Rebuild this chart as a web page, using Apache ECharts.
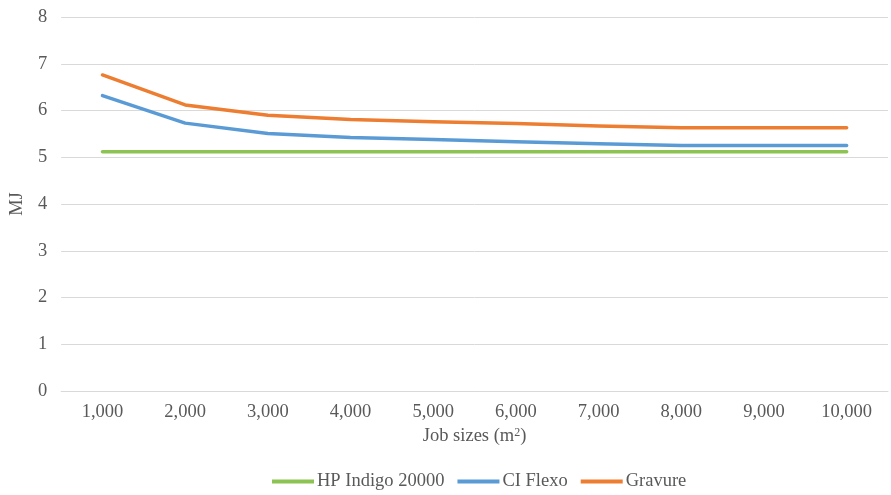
<!DOCTYPE html>
<html>
<head>
<meta charset="utf-8">
<script src="https://cdn.jsdelivr.net/npm/echarts@6/dist/echarts.min.js"></script>
<style>
  html, body { margin: 0; padding: 0; background: #fff; }
  #chart { width: 891px; height: 495px; }
</style>
</head>
<body>
<div id="chart"></div>
<script>
// Job sizes (m²)
const jobSizes = ['1,000', '2,000', '3,000', '4,000', '5,000', '6,000', '7,000', '8,000', '9,000', '10,000'];
// Energy per job (MJ)
const hpIndigo = [5.12, 5.12, 5.12, 5.12, 5.12, 5.12, 5.12, 5.12, 5.12, 5.12];
const ciFlexo = [6.32, 5.73, 5.51, 5.42, 5.38, 5.33, 5.29, 5.25, 5.25, 5.25];
const gravure = [6.76, 6.12, 5.90, 5.81, 5.76, 5.72, 5.67, 5.63, 5.63, 5.63];
const yTicks = { min: 0, max: 8, interval: 1 };

const FONT = '"Liberation Serif", "Times New Roman", serif';
const TEXT = '#595959';
const FS = 18.5;

const chart = echarts.init(document.getElementById('chart'), null, { renderer: 'canvas' });

function lineSeries(name, data, color) {
  return {
    name, type: 'line', data,
    symbol: 'none',
    lineStyle: { width: 3.5, color, cap: 'round', join: 'round' },
    itemStyle: { color },
    animation: false
  };
}

chart.setOption({
  animation: false,
  textStyle: { fontFamily: FONT, color: TEXT },
  grid: { left: 56, right: 3, top: 17, bottom: 104, containLabel: false },
  legend: {
    bottom: 4,
    left: 272,
    padding: 0,
    itemWidth: 42,
    itemHeight: 4,
    itemGap: 13,
    icon: 'rect',
    textStyle: { fontFamily: FONT, fontSize: FS, color: TEXT, padding: [0, 0, 0, -2] },
    data: ['HP Indigo 20000', 'CI Flexo', 'Gravure']
  },
  xAxis: {
    type: 'category',
    data: jobSizes,
    boundaryGap: true,
    name: 'Job sizes (m{sup|2})',
    nameLocation: 'middle',
    nameGap: 36,
    nameTextStyle: {
      fontFamily: FONT, fontSize: FS, color: TEXT,
      rich: { sup: { fontFamily: FONT, fontSize: 12, color: TEXT, verticalAlign: 'top', padding: [0, 0, 7, 0] } }
    },
    axisLine: { show: true, lineStyle: { color: '#d9d9d9', width: 1 } },
    axisTick: { show: false },
    axisLabel: { fontFamily: FONT, fontSize: FS, color: TEXT, margin: 12 }
  },
  yAxis: {
    type: 'value',
    min: yTicks.min, max: yTicks.max, interval: yTicks.interval,
    name: 'MJ',
    nameLocation: 'middle',
    nameGap: 31,
    nameRotate: 90,
    nameTextStyle: { fontFamily: FONT, fontSize: FS, color: TEXT },
    axisLine: { show: false },
    axisTick: { show: false },
    axisLabel: { fontFamily: FONT, fontSize: FS, color: TEXT, margin: 14 },
    splitLine: { lineStyle: { color: '#d9d9d9', width: 1 } }
  },
  series: [
    lineSeries('HP Indigo 20000', hpIndigo, '#8dc353'),
    lineSeries('CI Flexo', ciFlexo, '#5b9bd5'),
    lineSeries('Gravure', gravure, '#ed7d31')
  ]
});
</script>
</body>
</html>
